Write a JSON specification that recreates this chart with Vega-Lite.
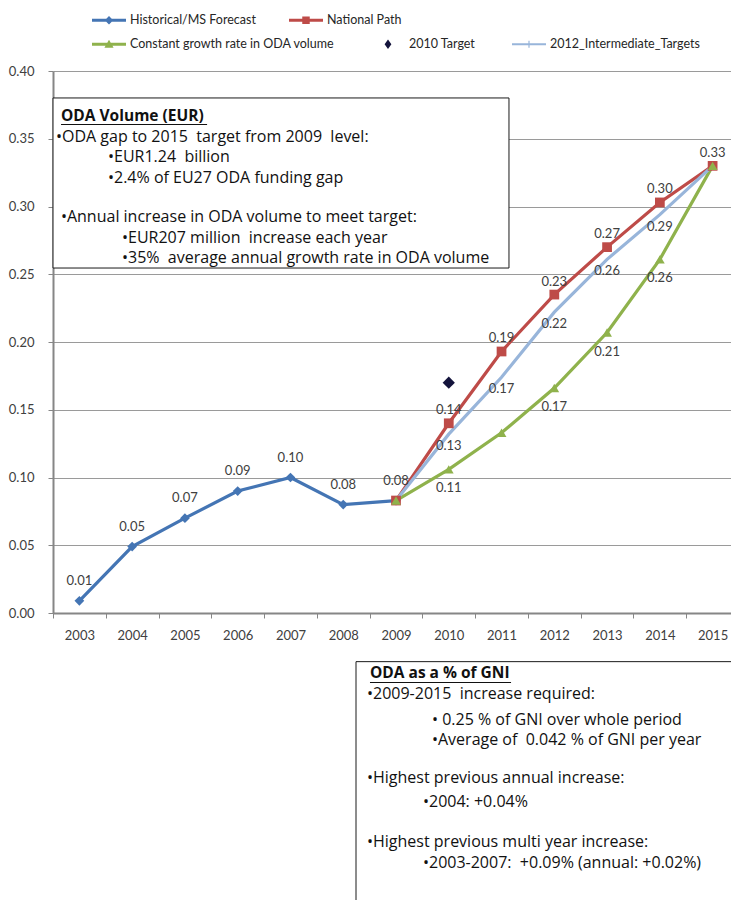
{
  "$schema": "https://vega.github.io/schema/vega-lite/v6.json",
  "width": 686,
  "height": 542,
  "autosize": {"type": "none"},
  "padding": {"left": 53, "top": 71, "right": 0, "bottom": 287},
  "background": "white",
  "config": {
    "font": "Lato",
    "view": {"stroke": null}
  },
  "datasets": {
    "series": [
      {"series": "Historical/MS Forecast", "year": "2003", "value": 0.009},
      {"series": "Historical/MS Forecast", "year": "2004", "value": 0.049},
      {"series": "Historical/MS Forecast", "year": "2005", "value": 0.070},
      {"series": "Historical/MS Forecast", "year": "2006", "value": 0.090},
      {"series": "Historical/MS Forecast", "year": "2007", "value": 0.100},
      {"series": "Historical/MS Forecast", "year": "2008", "value": 0.080},
      {"series": "Historical/MS Forecast", "year": "2009", "value": 0.083},
      {"series": "National Path", "year": "2009", "value": 0.083},
      {"series": "National Path", "year": "2010", "value": 0.140},
      {"series": "National Path", "year": "2011", "value": 0.193},
      {"series": "National Path", "year": "2012", "value": 0.235},
      {"series": "National Path", "year": "2013", "value": 0.270},
      {"series": "National Path", "year": "2014", "value": 0.303},
      {"series": "National Path", "year": "2015", "value": 0.330},
      {"series": "Constant growth rate in ODA volume", "year": "2009", "value": 0.083},
      {"series": "Constant growth rate in ODA volume", "year": "2010", "value": 0.106},
      {"series": "Constant growth rate in ODA volume", "year": "2011", "value": 0.133},
      {"series": "Constant growth rate in ODA volume", "year": "2012", "value": 0.166},
      {"series": "Constant growth rate in ODA volume", "year": "2013", "value": 0.207},
      {"series": "Constant growth rate in ODA volume", "year": "2014", "value": 0.261},
      {"series": "Constant growth rate in ODA volume", "year": "2015", "value": 0.330},
      {"series": "2010 Target", "year": "2010", "value": 0.170},
      {"series": "2012_Intermediate_Targets", "year": "2009", "value": 0.083},
      {"series": "2012_Intermediate_Targets", "year": "2010", "value": 0.132},
      {"series": "2012_Intermediate_Targets", "year": "2011", "value": 0.174},
      {"series": "2012_Intermediate_Targets", "year": "2012", "value": 0.222},
      {"series": "2012_Intermediate_Targets", "year": "2013", "value": 0.261},
      {"series": "2012_Intermediate_Targets", "year": "2014", "value": 0.294},
      {"series": "2012_Intermediate_Targets", "year": "2015", "value": 0.330}
    ]
  },
  "resolve": {"scale": {"x": "independent", "y": "independent"}},
  "layer": [
    {
      "data": {"name": "series"},
      "encoding": {
        "x": {
          "field": "year", "type": "ordinal", "bandPosition": 0.5,
          "scale": {"type": "band", "paddingInner": 0, "paddingOuter": 0,
                    "domain": ["2003","2004","2005","2006","2007","2008","2009","2010","2011","2012","2013","2014","2015"]},
          "axis": {"title": null, "tickBand": "extent", "labelAngle": 0, "grid": false,
                   "domainColor": "#868686", "domainWidth": 2, "tickColor": "#868686", "tickWidth": 1, "tickSize": 5,
                   "labelFont": "Lato", "labelFontSize": 13, "labelColor": "#404040", "labelPadding": 11}
        },
        "y": {
          "field": "value", "type": "quantitative",
          "scale": {"domain": [0, 0.4], "nice": false, "zero": false},
          "axis": {"title": null, "values": [0, 0.05, 0.1, 0.15, 0.2, 0.25, 0.3, 0.35, 0.4], "format": ".2f",
                   "grid": true, "gridColor": "#9a9a9a", "gridWidth": 1,
                   "domainColor": "#868686", "domainWidth": 2, "tickColor": "#868686", "tickSize": 5,
                   "labelFont": "Lato", "labelFontSize": 13, "labelColor": "#404040", "labelPadding": 14}
        }
      },
      "layer": [
        {
          "transform": [{"filter": "datum.series != '2010 Target'"}],
          "mark": {"type": "line", "strokeWidth": 3.2},
          "encoding": {
            "color": {"field": "series", "type": "nominal", "legend": null,
                      "scale": {"domain": ["Historical/MS Forecast", "National Path", "Constant growth rate in ODA volume", "2010 Target", "2012_Intermediate_Targets"],
                                "range": ["#4475b4", "#be4b48", "#8fb24c", "#14143c", "#98b5da"]}}
          }
        },
        {
          "transform": [{"filter": "datum.series == 'Historical/MS Forecast' || datum.series == 'National Path' || datum.series == 'Constant growth rate in ODA volume'"}],
          "mark": {"type": "point", "filled": true, "size": 95, "opacity": 1},
          "encoding": {
            "color": {"field": "series", "type": "nominal", "legend": null},
            "shape": {"field": "series", "type": "nominal", "legend": null,
                      "scale": {"domain": ["Historical/MS Forecast", "National Path", "Constant growth rate in ODA volume"],
                                "range": ["diamond", "square", "triangle-up"]}}
          }
        },
        {
          "transform": [{"filter": "datum.series == '2010 Target'"}],
          "mark": {"type": "point", "shape": "diamond", "filled": true, "size": 150, "color": "#14143c", "opacity": 1}
        },
        {
          "transform": [{"filter": "datum.series == 'Historical/MS Forecast'"}],
          "mark": {"type": "text", "dy": -20, "fontSize": 13, "color": "#404040", "font": "Lato"},
          "encoding": {"text": {"field": "value", "type": "quantitative", "format": ".2f"}}
        },
        {
          "transform": [{"filter": "datum.series == 'National Path' && datum.year != '2009'"}],
          "mark": {"type": "text", "dy": -13, "fontSize": 13, "color": "#404040", "font": "Lato"},
          "encoding": {"text": {"field": "value", "type": "quantitative", "format": ".2f"}}
        },
        {
          "transform": [{"filter": "datum.series == 'Constant growth rate in ODA volume' && datum.year != '2009' && datum.year != '2011' && datum.year != '2015'"}],
          "mark": {"type": "text", "dy": 19, "fontSize": 13, "color": "#404040", "font": "Lato"},
          "encoding": {"text": {"field": "value", "type": "quantitative", "format": ".2f"}}
        },
        {
          "transform": [{"filter": "datum.series == '2012_Intermediate_Targets' && datum.year != '2009' && datum.year != '2015'"}],
          "mark": {"type": "text", "dy": 12, "fontSize": 13, "color": "#404040", "font": "Lato"},
          "encoding": {"text": {"field": "value", "type": "quantitative", "format": ".2f"}}
        },
        {
          "transform": [{"filter": "datum.series == 'Historical/MS Forecast' || datum.series == 'National Path'"}],
          "mark": {"type": "line", "opacity": 0},
          "encoding": {
            "stroke": {"field": "series", "type": "nominal",
                       "scale": {"domain": ["Historical/MS Forecast", "National Path"], "range": ["#4475b4", "#be4b48"]},
                       "legend": {"orient": "none", "legendX": 39, "legendY": -68, "direction": "horizontal", "title": null,
                                  "padding": 0, "labelFont": "Lato", "labelFontSize": 12.5, "labelColor": "#262626", "labelLimit": 400,
                                  "labelOffset": 4, "columnPadding": 33, "symbolSize": 1156, "symbolOpacity": 1,
                                  "encode": {"symbols": {"update": {
                                    "shape": {"signal": "datum.value == 'National Path' ? 'M-1,-0.09H1V0.09H-1Z M-0.22,-0.22H0.22V0.22H-0.22Z' : 'M-1,-0.09H1V0.09H-1Z M0,-0.25L0.25,0L0,0.25L-0.25,0Z'"},
                                    "fill": {"scale": "stroke", "field": "value"},
                                    "strokeWidth": {"value": 0},
                                    "opacity": {"value": 1}
                                  }}}}}
          }
        },
        {
          "transform": [{"filter": "datum.series == 'Constant growth rate in ODA volume' || datum.series == '2010 Target' || datum.series == '2012_Intermediate_Targets'"}],
          "mark": {"type": "point", "filled": true, "opacity": 0},
          "encoding": {
            "fill": {"field": "series", "type": "nominal",
                     "scale": {"domain": ["Constant growth rate in ODA volume", "2010 Target", "2012_Intermediate_Targets"], "range": ["#8fb24c", "#14143c", "#98b5da"]},
                     "legend": {"orient": "none", "legendX": 39, "legendY": -44, "direction": "horizontal", "title": null,
                                "padding": 0, "labelFont": "Lato", "labelFontSize": 12.5, "labelColor": "#262626", "labelLimit": 400,
                                "labelOffset": 4, "columnPadding": 36, "symbolSize": 1156, "symbolOpacity": 1,
                                "encode": {"symbols": {"update": {
                                  "shape": {"signal": "datum.value == '2010 Target' ? 'M0,-0.28L0.2,0L0,0.28L-0.2,0Z' : datum.value == 'Constant growth rate in ODA volume' ? 'M-1,-0.09H1V0.09H-1Z M0,-0.27L0.27,0.2H-0.27Z' : 'M-1,-0.06H1V0.06H-1Z M-0.035,-0.2H0.035V0.2H-0.035Z'"},
                                  "strokeWidth": {"value": 0},
                                  "opacity": {"value": 1}
                                }}}}}
          }
        }
      ]
    },
    {
      "data": {"values": [{}]},
      "layer": [
        {
          "mark": {"type": "rect", "fill": "white", "stroke": "#1a1a1a", "strokeWidth": 1},
          "encoding": {
            "x": {"datum": 2002.5, "type": "quantitative", "scale": {"domain": [2002.5, 2015.5], "nice": false, "zero": false}, "axis": null},
            "x2": {"datum": 2011.141},
            "y": {"datum": 0.3801, "type": "quantitative", "scale": {"domain": [0, 0.4], "nice": false, "zero": false}, "axis": null},
            "y2": {"datum": 0.2546}
          }
        },
        {
          "mark": {"type": "rect", "fill": "white", "stroke": "#1a1a1a", "strokeWidth": 1},
          "encoding": {
            "x": {"datum": 2008.242, "type": "quantitative", "scale": {"domain": [2002.5, 2015.5], "nice": false, "zero": false}, "axis": null},
            "x2": {"datum": 2015.8},
            "y": {"datum": -0.0359, "type": "quantitative", "scale": {"domain": [0, 0.4], "nice": false, "zero": false}, "axis": null},
            "y2": {"datum": -0.23}
          }
        },
        {
          "mark": {"type": "rule", "stroke": "#111111", "strokeWidth": 1.2},
          "encoding": {
            "x": {"datum": 2002.652, "type": "quantitative", "scale": {"domain": [2002.5, 2015.5], "nice": false, "zero": false}, "axis": null},
            "x2": {"datum": 2005.42},
            "y": {"datum": 0.3605, "type": "quantitative", "scale": {"domain": [0, 0.4], "nice": false, "zero": false}, "axis": null}
          }
        },
        {
          "mark": {"type": "rule", "stroke": "#111111", "strokeWidth": 1.2},
          "encoding": {
            "x": {"datum": 2008.507, "type": "quantitative", "scale": {"domain": [2002.5, 2015.5], "nice": false, "zero": false}, "axis": null},
            "x2": {"datum": 2011.18},
            "y": {"datum": -0.0513, "type": "quantitative", "scale": {"domain": [0, 0.4], "nice": false, "zero": false}, "axis": null}
          }
        },
        {
          "mark": {"type": "text", "align": "left", "baseline": "middle", "font": "Open Sans", "fontSize": 15.5, "fontWeight": "bold", "color": "#111111", "text": "ODA Volume (EUR)"},
          "encoding": {
            "x": {"datum": 2002.652, "type": "quantitative", "scale": {"domain": [2002.5, 2015.5], "nice": false, "zero": false}, "axis": null},
            "y": {"datum": 0.3666, "type": "quantitative", "scale": {"domain": [0, 0.4], "nice": false, "zero": false}, "axis": null}
          }
        },
        {
          "mark": {"type": "text", "align": "left", "baseline": "middle", "font": "Open Sans", "fontSize": 16, "color": "#111111", "text": "•ODA gap to 2015\u00a0 target from 2009\u00a0 level:"},
          "encoding": {
            "x": {"datum": 2002.557, "type": "quantitative", "scale": {"domain": [2002.5, 2015.5], "nice": false, "zero": false}, "axis": null},
            "y": {"datum": 0.3514, "type": "quantitative", "scale": {"domain": [0, 0.4], "nice": false, "zero": false}, "axis": null}
          }
        },
        {
          "mark": {"type": "text", "align": "left", "baseline": "middle", "font": "Open Sans", "fontSize": 16, "color": "#111111", "text": "•EUR1.24\u00a0 billion"},
          "encoding": {
            "x": {"datum": 2003.542, "type": "quantitative", "scale": {"domain": [2002.5, 2015.5], "nice": false, "zero": false}, "axis": null},
            "y": {"datum": 0.3362, "type": "quantitative", "scale": {"domain": [0, 0.4], "nice": false, "zero": false}, "axis": null}
          }
        },
        {
          "mark": {"type": "text", "align": "left", "baseline": "middle", "font": "Open Sans", "fontSize": 16, "color": "#111111", "text": "•2.4% of EU27 ODA funding gap"},
          "encoding": {
            "x": {"datum": 2003.542, "type": "quantitative", "scale": {"domain": [2002.5, 2015.5], "nice": false, "zero": false}, "axis": null},
            "y": {"datum": 0.3208, "type": "quantitative", "scale": {"domain": [0, 0.4], "nice": false, "zero": false}, "axis": null}
          }
        },
        {
          "mark": {"type": "text", "align": "left", "baseline": "middle", "font": "Open Sans", "fontSize": 16, "color": "#111111", "text": "•Annual increase in ODA volume to meet target:"},
          "encoding": {
            "x": {"datum": 2002.65, "type": "quantitative", "scale": {"domain": [2002.5, 2015.5], "nice": false, "zero": false}, "axis": null},
            "y": {"datum": 0.2925, "type": "quantitative", "scale": {"domain": [0, 0.4], "nice": false, "zero": false}, "axis": null}
          }
        },
        {
          "mark": {"type": "text", "align": "left", "baseline": "middle", "font": "Open Sans", "fontSize": 16, "color": "#111111", "text": "•EUR207 million\u00a0 increase each year"},
          "encoding": {
            "x": {"datum": 2003.808, "type": "quantitative", "scale": {"domain": [2002.5, 2015.5], "nice": false, "zero": false}, "axis": null},
            "y": {"datum": 0.2770, "type": "quantitative", "scale": {"domain": [0, 0.4], "nice": false, "zero": false}, "axis": null}
          }
        },
        {
          "mark": {"type": "text", "align": "left", "baseline": "middle", "font": "Open Sans", "fontSize": 16, "color": "#111111", "text": "•35%\u00a0 average annual growth rate in ODA volume"},
          "encoding": {
            "x": {"datum": 2003.808, "type": "quantitative", "scale": {"domain": [2002.5, 2015.5], "nice": false, "zero": false}, "axis": null},
            "y": {"datum": 0.2618, "type": "quantitative", "scale": {"domain": [0, 0.4], "nice": false, "zero": false}, "axis": null}
          }
        },
        {
          "mark": {"type": "text", "align": "left", "baseline": "middle", "font": "Open Sans", "fontSize": 15.5, "fontWeight": "bold", "color": "#111111", "text": "ODA as a % of GNI"},
          "encoding": {
            "x": {"datum": 2008.507, "type": "quantitative", "scale": {"domain": [2002.5, 2015.5], "nice": false, "zero": false}, "axis": null},
            "y": {"datum": -0.0440, "type": "quantitative", "scale": {"domain": [0, 0.4], "nice": false, "zero": false}, "axis": null}
          }
        },
        {
          "mark": {"type": "text", "align": "left", "baseline": "middle", "font": "Open Sans", "fontSize": 16, "color": "#111111", "text": "•2009-2015\u00a0 increase required:"},
          "encoding": {
            "x": {"datum": 2008.45, "type": "quantitative", "scale": {"domain": [2002.5, 2015.5], "nice": false, "zero": false}, "axis": null},
            "y": {"datum": -0.0596, "type": "quantitative", "scale": {"domain": [0, 0.4], "nice": false, "zero": false}, "axis": null}
          }
        },
        {
          "mark": {"type": "text", "align": "left", "baseline": "middle", "font": "Open Sans", "fontSize": 16, "color": "#111111", "text": "• 0.25 % of GNI over whole period"},
          "encoding": {
            "x": {"datum": 2009.682, "type": "quantitative", "scale": {"domain": [2002.5, 2015.5], "nice": false, "zero": false}, "axis": null},
            "y": {"datum": -0.0786, "type": "quantitative", "scale": {"domain": [0, 0.4], "nice": false, "zero": false}, "axis": null}
          }
        },
        {
          "mark": {"type": "text", "align": "left", "baseline": "middle", "font": "Open Sans", "fontSize": 16, "color": "#111111", "text": "•Average of\u00a0 0.042 % of GNI per year"},
          "encoding": {
            "x": {"datum": 2009.682, "type": "quantitative", "scale": {"domain": [2002.5, 2015.5], "nice": false, "zero": false}, "axis": null},
            "y": {"datum": -0.0940, "type": "quantitative", "scale": {"domain": [0, 0.4], "nice": false, "zero": false}, "axis": null}
          }
        },
        {
          "mark": {"type": "text", "align": "left", "baseline": "middle", "font": "Open Sans", "fontSize": 16, "color": "#111111", "text": "•Highest previous annual increase:"},
          "encoding": {
            "x": {"datum": 2008.45, "type": "quantitative", "scale": {"domain": [2002.5, 2015.5], "nice": false, "zero": false}, "axis": null},
            "y": {"datum": -0.1218, "type": "quantitative", "scale": {"domain": [0, 0.4], "nice": false, "zero": false}, "axis": null}
          }
        },
        {
          "mark": {"type": "text", "align": "left", "baseline": "middle", "font": "Open Sans", "fontSize": 16, "color": "#111111", "text": "•2004: +0.04%"},
          "encoding": {
            "x": {"datum": 2009.511, "type": "quantitative", "scale": {"domain": [2002.5, 2015.5], "nice": false, "zero": false}, "axis": null},
            "y": {"datum": -0.1395, "type": "quantitative", "scale": {"domain": [0, 0.4], "nice": false, "zero": false}, "axis": null}
          }
        },
        {
          "mark": {"type": "text", "align": "left", "baseline": "middle", "font": "Open Sans", "fontSize": 16, "color": "#111111", "text": "•Highest previous multi year increase:"},
          "encoding": {
            "x": {"datum": 2008.45, "type": "quantitative", "scale": {"domain": [2002.5, 2015.5], "nice": false, "zero": false}, "axis": null},
            "y": {"datum": -0.1690, "type": "quantitative", "scale": {"domain": [0, 0.4], "nice": false, "zero": false}, "axis": null}
          }
        },
        {
          "mark": {"type": "text", "align": "left", "baseline": "middle", "font": "Open Sans", "fontSize": 16, "color": "#111111", "text": "•2003-2007:\u00a0 +0.09% (annual: +0.02%)"},
          "encoding": {
            "x": {"datum": 2009.511, "type": "quantitative", "scale": {"domain": [2002.5, 2015.5], "nice": false, "zero": false}, "axis": null},
            "y": {"datum": -0.1845, "type": "quantitative", "scale": {"domain": [0, 0.4], "nice": false, "zero": false}, "axis": null}
          }
        }
      ]
    }
  ]
}
